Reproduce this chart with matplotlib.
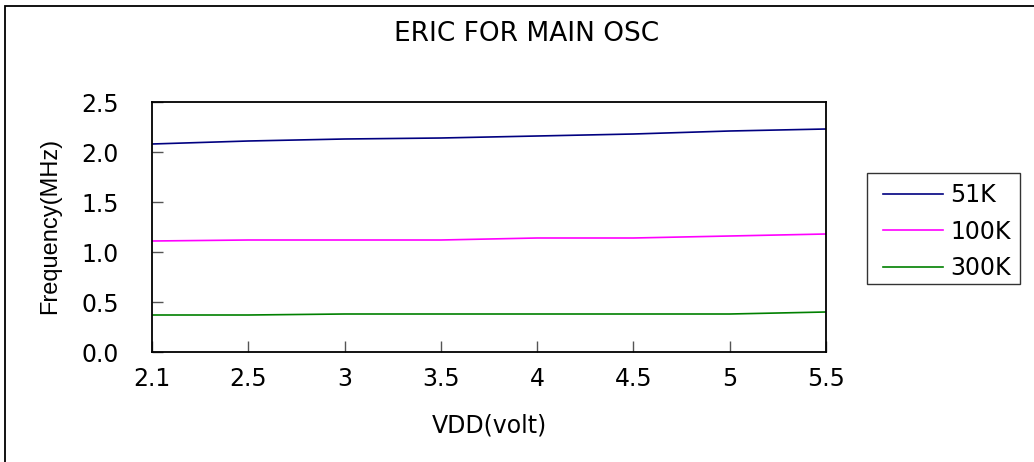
import matplotlib
matplotlib.use("Agg")
import matplotlib.pyplot as plt
from matplotlib.patches import Rectangle

vdd_labels = ["2.1", "2.5", "3", "3.5", "4", "4.5", "5", "5.5"]
series_names = ["51K", "100K", "300K"]
freq_51k = [2.08, 2.11, 2.13, 2.14, 2.16, 2.18, 2.21, 2.23]
freq_100k = [1.11, 1.12, 1.12, 1.12, 1.14, 1.14, 1.16, 1.18]
freq_300k = [0.37, 0.37, 0.38, 0.38, 0.38, 0.38, 0.38, 0.40]
colors = ["#000080", "#FF00FF", "#008000"]

plt.rcParams['font.family'] = ['DejaVu Sans']
FS = 17

W, H = 1034, 462
fig = plt.figure(figsize=(W / 100, H / 100), dpi=100)
ax = fig.add_axes([152 / W, 1 - 352 / H, (826 - 152) / W, (352 - 102) / H])

x = list(range(len(vdd_labels)))
for vals, name, c in zip([freq_51k, freq_100k, freq_300k], series_names, colors):
    ax.plot(x, vals, color=c, lw=1.2, label=name)

ax.set_xlim(0, len(vdd_labels) - 1)
ax.set_ylim(0, 2.5)
ax.set_xticks(x)
ax.set_xticklabels(vdd_labels)
ax.set_yticks([0, 0.5, 1.0, 1.5, 2.0, 2.5])
ax.set_yticklabels(["0.0", "0.5", "1.0", "1.5", "2.0", "2.5"])
ax.tick_params(direction='in', length=8, width=1, labelsize=FS, color='#555555')
ax.tick_params(axis='x', pad=11)
ax.tick_params(axis='y', pad=24)
for s in ax.spines.values():
    s.set_linewidth(1.3)

fig.text(527 / W, 1 - 34 / H, "ERIC FOR MAIN OSC", ha='center', va='center', fontsize=19)
fig.text(489 / W, 1 - 425 / H, "VDD(volt)", ha='center', va='center', fontsize=FS)
fig.text(50 / W, 1 - 226 / H, "Frequency(MHz)", ha='center', va='center', rotation=90,
         fontsize=FS, family='Liberation Sans')

handles, labels = ax.get_legend_handles_labels()
leg = fig.legend(handles, labels, loc='upper left',
                 bbox_to_anchor=(883 / W, 1 - 183 / H),
                 fontsize=FS, frameon=False,
                 handlelength=2.55, handletextpad=0.3, labelspacing=0.53,
                 borderpad=0, borderaxespad=0)

fig.patches.append(Rectangle((867 / W, 1 - 284 / H), (1020 - 867) / W, (284 - 173) / H,
                             transform=fig.transFigure, fill=False, edgecolor='#333333', lw=1.0))

fig.patches.append(Rectangle((5 / W, -0.1), 1.2, 1 - 6 / H + 0.1, transform=fig.transFigure,
                             fill=False, edgecolor='black', lw=1.3))

fig.savefig("out.png", dpi=100)
